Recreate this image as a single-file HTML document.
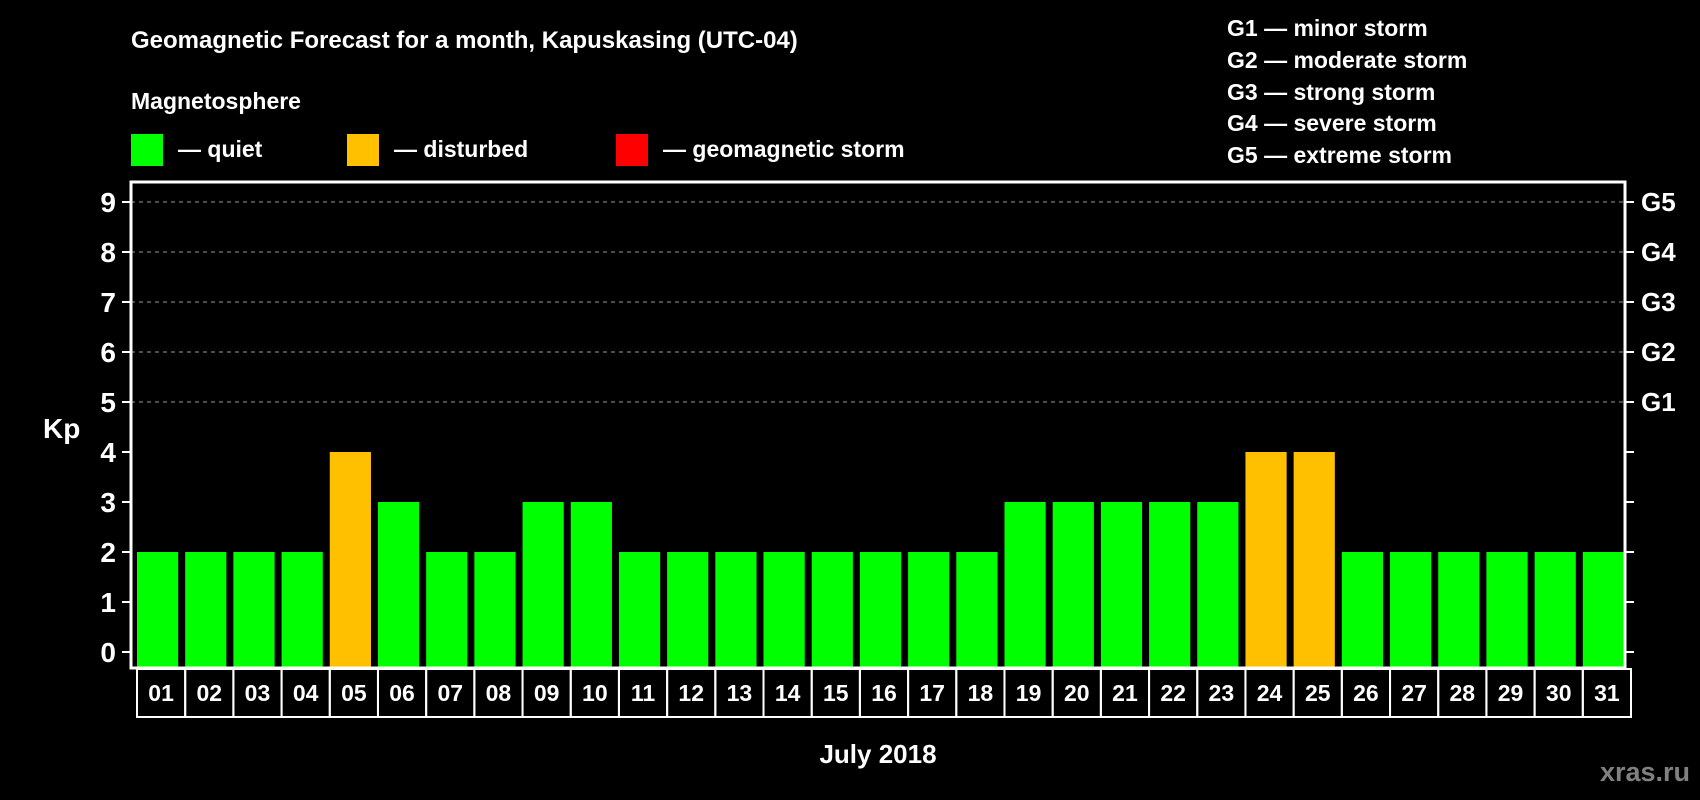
<!DOCTYPE html>
<html><head><meta charset="utf-8"><style>
html,body{margin:0;padding:0;background:#000;}
svg{display:block;font-family:"Liberation Sans",Arial,sans-serif;font-weight:bold;}
</style></head><body>
<svg id="chart" width="1700" height="800" viewBox="0 0 1700 800">
<rect x="0" y="0" width="1700" height="800" fill="#000"/>
<text x="131" y="48" fill="#fff" font-size="24">Geomagnetic Forecast for a month, Kapuskasing (UTC-04)</text>
<text x="131" y="109" fill="#fff" font-size="23">Magnetosphere</text>
<g><rect x="131" y="134" width="32" height="32" fill="#00ff00"/><text x="178" y="157" fill="#fff" font-size="23">— quiet</text></g>
<g><rect x="347" y="134" width="32" height="32" fill="#ffc000"/><text x="394" y="157" fill="#fff" font-size="23">— disturbed</text></g>
<g><rect x="616" y="134" width="32" height="32" fill="#ff0000"/><text x="663" y="157" fill="#fff" font-size="23">— geomagnetic storm</text></g>
<g fill="#fff" font-size="23">
<text x="1227" y="36">G1 — minor storm</text>
<text x="1227" y="68">G2 — moderate storm</text>
<text x="1227" y="100">G3 — strong storm</text>
<text x="1227" y="131">G4 — severe storm</text>
<text x="1227" y="163">G5 — extreme storm</text>
</g>
<text x="43" y="438" fill="#fff" font-size="28">Kp</text>
<text x="878" y="763" fill="#fff" font-size="26" text-anchor="middle">July 2018</text>
<text x="1690" y="781" fill="#808080" font-size="27" text-anchor="end">xras.ru</text>
<g id="grid"></g><g id="bars"></g><g id="axes"></g>
</svg>
<script>
const days = ["01","02","03","04","05","06","07","08","09","10","11","12","13","14","15","16","17","18","19","20","21","22","23","24","25","26","27","28","29","30","31"];
const kp = [2,2,2,2,4,3,2,2,3,3,2,2,2,2,2,2,2,2,3,3,3,3,3,4,4,2,2,2,2,2,2];
const yTicks = [0,1,2,3,4,5,6,7,8,9];
const gLabels = ["G1","G2","G3","G4","G5"];
const gLevels = [5,6,7,8,9];
const NS="http://www.w3.org/2000/svg";
const L=131,R=1625,T=182,B=668;
const y0=652,unit=50;
function yS(v){return y0-v*unit;}
const pitch=(R-L)/days.length;
function xS(i){return L+i*pitch;}
function mk(tag,attrs,parent){const e=document.createElementNS(NS,tag);for(const k in attrs)e.setAttribute(k,attrs[k]);parent.appendChild(e);return e;}
const grid=document.getElementById('grid'),bars=document.getElementById('bars'),axes=document.getElementById('axes');
gLevels.forEach((v,i)=>{
  const l=mk('line',{x1:L,x2:R,y1:yS(v),y2:yS(v),stroke:'#999','stroke-width':1,'stroke-dasharray':'4 4'},grid);
  
  
  const t=mk('text',{x:1641,y:yS(v)+9,fill:'#fff','font-size':26},axes);
  t.textContent=gLabels[i];
  
  
});
kp.forEach((v,i)=>{
  const col=v>=5?'#ff0000':(v>=4?'#ffc000':'#00ff00');
  const r=mk('rect',{x:xS(i)+6,y:yS(v),width:pitch-7,height:B-yS(v),fill:col},bars);
  
  
  const bx=mk('rect',{x:xS(i)+6,y:B+1,width:pitch,height:48,fill:'none',stroke:'#fff','stroke-width':2},axes);
  
  
  const t=mk('text',{x:xS(i)+6+pitch/2,y:B+33,fill:'#fff','font-size':23,'text-anchor':'middle'},axes);
  t.textContent=days[i];
  
  
});
const frame=mk('rect',{x:L,y:T,width:R-L,height:B-T,fill:'none',stroke:'#fff','stroke-width':3},axes);


yTicks.forEach(v=>{
  const tl=mk('line',{x1:L-9,x2:L,y1:yS(v),y2:yS(v),stroke:'#fff','stroke-width':2},axes);
  
  
  const tr=mk('line',{x1:R,x2:R+9,y1:yS(v),y2:yS(v),stroke:'#fff','stroke-width':2},axes);
  
  
  const t=mk('text',{x:116,y:yS(v)+10,fill:'#fff','font-size':28,'text-anchor':'end'},axes);
  t.textContent=v;
  
  
});
</script>
</body></html>
